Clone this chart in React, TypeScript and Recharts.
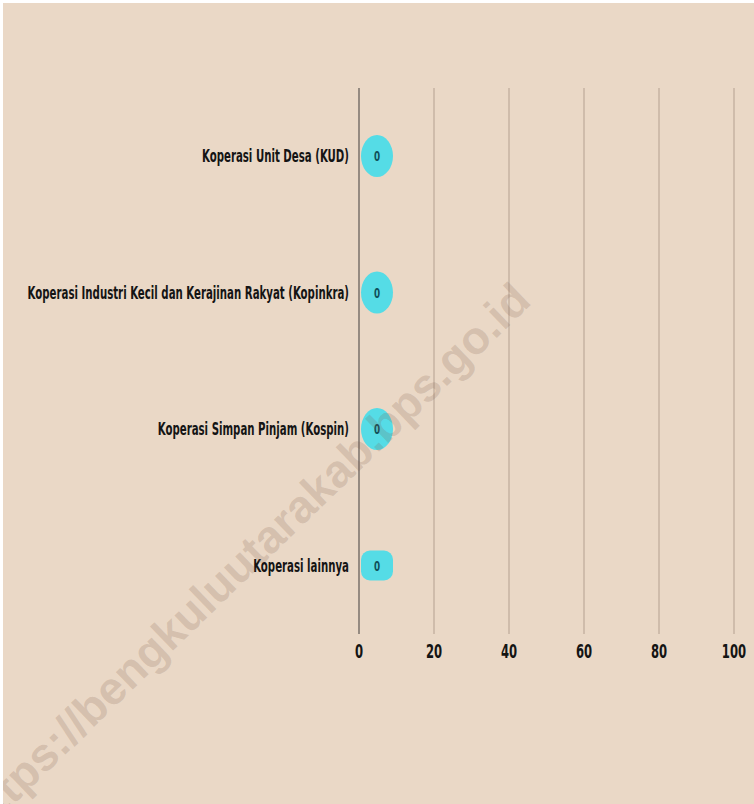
import React from "react";
import { BarChart, Bar, XAxis, YAxis, CartesianGrid, LabelList } from "recharts";

// Jumlah koperasi menurut jenis
const categories = [
  "Koperasi Unit Desa (KUD)",
  "Koperasi Industri Kecil dan Kerajinan Rakyat (Kopinkra)",
  "Koperasi Simpan Pinjam (Kospin)",
  "Koperasi lainnya",
];
const values = [0, 0, 0, 0];
const xTicks = [0, 20, 40, 60, 80, 100];
const watermark = "https://bengkuluutarakab.bps.go.id";

const data = categories.map((name, i) => ({ name, value: values[i] }));

const BG = "#ead8c6";
const FONT = "'DejaVu Sans Condensed', 'DejaVu Sans', sans-serif";

function CategoryTick({ x, y, payload }: any) {
  return (
    <g transform={`translate(${x - 2},${y})`}>
      <text
        transform="scale(0.63,1)"
        textAnchor="end"
        dy={6}
        fontFamily={FONT}
        fontWeight="bold"
        fontSize={18}
        fill="#141414"
      >
        {payload.value}
      </text>
    </g>
  );
}

function ValueTick({ x, y, payload }: any) {
  return (
    <g transform={`translate(${x},${y})`}>
      <text
        transform="scale(0.68,1)"
        textAnchor="middle"
        dy={16}
        fontFamily={FONT}
        fontWeight="bold"
        fontSize={19}
        fill="#141414"
      >
        {payload.value}
      </text>
    </g>
  );
}

// bars with value 0 still get a small pill, as in the original
function Pill({ x, y, width, height, index }: any) {
  const w = Math.max(width, 32);
  const last = index === categories.length - 1;
  const h = last ? 30 : height;
  const cy = y + height / 2;
  return (
    <rect
      x={x + 2}
      y={cy - h / 2}
      width={w}
      height={h}
      rx={last ? 9 : 16}
      ry={last ? 9 : 21}
      fill="#55dce6"
    />
  );
}

function PillLabel({ x, y, width, height, value }: any) {
  const w = Math.max(width, 32);
  const cx = x + 2 + w / 2;
  return (
    <g transform={`translate(${cx},${y + height / 2 + 5})`}>
      <text
        transform="scale(0.7,1)"
        textAnchor="middle"
        fontFamily={FONT}
        fontWeight="bold"
        fontSize={14}
        fill="#10505c"
      >
        {value}
      </text>
    </g>
  );
}

export default function App() {
  return (
    <div
      style={{
        position: "absolute",
        left: 3,
        top: 3,
        width: 751,
        height: 801,
        background: BG,
        overflow: "hidden",
      }}
    >
      <BarChart
        width={751}
        height={801}
        data={data}
        layout="vertical"
        margin={{ top: 85, right: 20, bottom: 140, left: 0 }}
      >
        <CartesianGrid horizontal={false} stroke="#c6b3a2" strokeWidth={1.5} />
        <XAxis
          type="number"
          domain={[0, 100]}
          ticks={xTicks}
          axisLine={false}
          tickLine={false}
          height={30}
          tick={<ValueTick />}
        />
        <YAxis
          type="category"
          dataKey="name"
          width={356}
          axisLine={{ stroke: "#6f6a66", strokeWidth: 1.2 }}
          tickLine={false}
          tick={<CategoryTick />}
        />
        <Bar dataKey="value" barSize={42} shape={<Pill />} isAnimationActive={false}>
          <LabelList dataKey="value" content={<PillLabel />} />
        </Bar>
      </BarChart>
      <svg
        width={751}
        height={801}
        style={{ position: "absolute", left: 0, top: 0, pointerEvents: "none" }}
      >
        <text
          x={530}
          y={300}
          textAnchor="end"
          transform="rotate(-44 530 300)"
          fontFamily="'Liberation Sans', Arial, sans-serif"
          fontWeight="bold"
          fontSize={46}
          fill="rgba(125,88,72,0.2)"
        >
          {watermark}
        </text>
      </svg>
    </div>
  );
}
